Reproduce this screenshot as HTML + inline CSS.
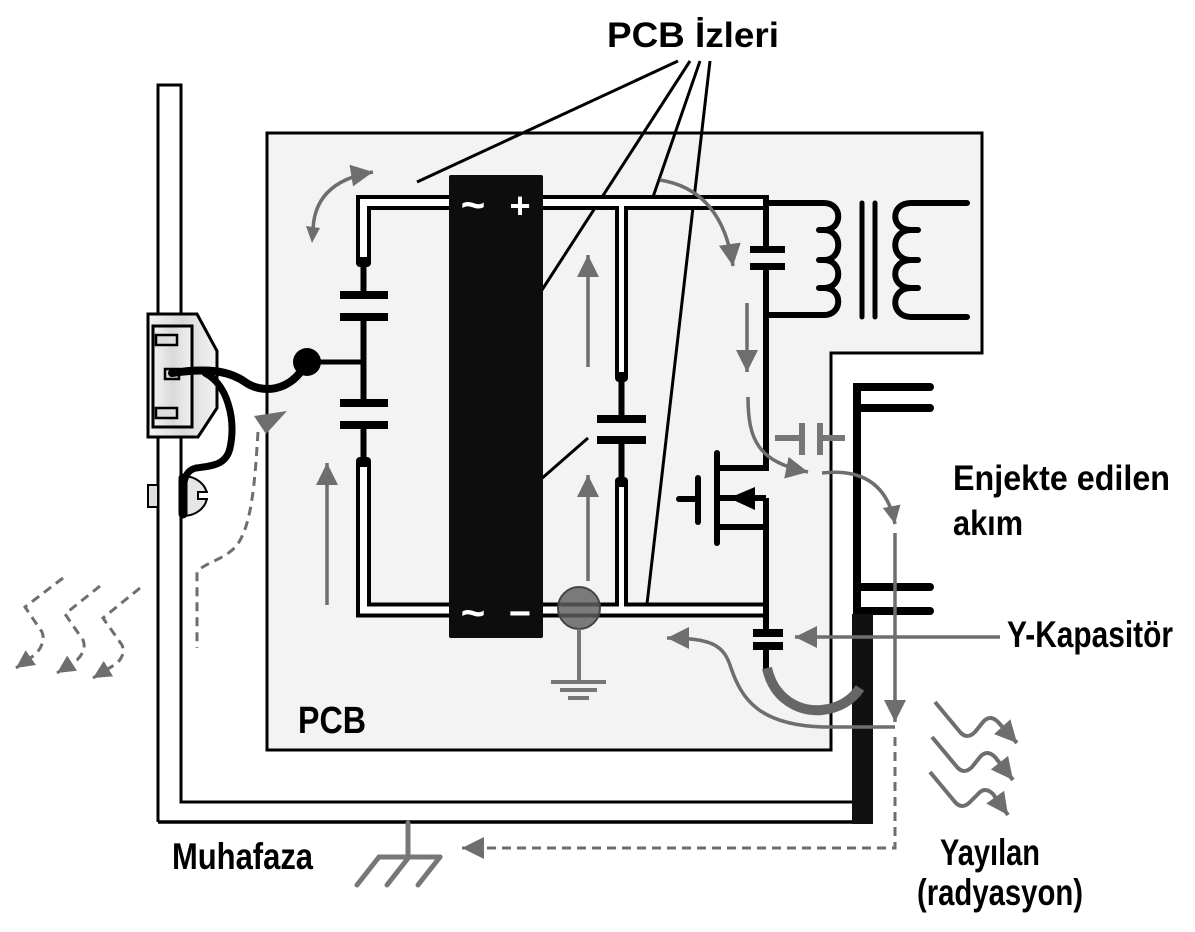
<!DOCTYPE html>
<html><head><meta charset="utf-8"><style>
html,body{margin:0;padding:0;background:#fff;}
svg{display:block;}
text{font-family:"Liberation Sans",Arial,sans-serif;font-weight:bold;}
</style></head><body>
<svg width="1195" height="932" viewBox="0 0 1195 932" xmlns="http://www.w3.org/2000/svg">
<defs>
<marker id="ah" viewBox="0 0 10 10" refX="10" refY="5" markerUnits="userSpaceOnUse" markerWidth="28" markerHeight="22" orient="auto"><path d="M0,0 L10,5 L0,10 z" fill="#6e6e6e"/></marker>
<marker id="ahs" viewBox="0 0 10 10" refX="10" refY="5" markerUnits="userSpaceOnUse" markerWidth="22" markerHeight="18" orient="auto"><path d="M0,0 L10,5 L0,10 z" fill="#6e6e6e"/></marker>
<linearGradient id="cg" x1="0" y1="0" x2="1" y2="0"><stop offset="0" stop-color="#f4f4f4"/><stop offset="0.5" stop-color="#d9d9d9"/><stop offset="1" stop-color="#f2f2f2"/></linearGradient>
</defs>
<rect width="1195" height="932" fill="#fff"/>

<!-- Enclosure -->
<path d="M158,822 V85 H181 V802 H852" fill="none" stroke="#000" stroke-width="3"/>
<path d="M158,822 H873" fill="none" stroke="#000" stroke-width="3.5"/>

<!-- PCB -->
<path d="M267,133 H982 V353 H831 V750 H267 Z" fill="#f3f3f3" stroke="#000" stroke-width="3"/>

<!-- Labels lines -->
<g stroke="#000" stroke-width="3" fill="none">
<line x1="678" y1="61" x2="417" y2="182"/>
<line x1="690" y1="61" x2="540" y2="293"/>
<line x1="700" y1="61" x2="653" y2="197"/>
<line x1="710" y1="61" x2="647" y2="604"/>
<line x1="540" y1="480" x2="588" y2="438"/>
</g>

<!-- Double traces -->
<g fill="none" stroke="#000" stroke-linejoin="miter">
<path d="M363.5,263 V202.5 H767" stroke-width="15"/>
<path d="M363.5,462 V610 H767" stroke-width="15"/>
<path d="M621.5,202.5 V378" stroke-width="13"/>
<path d="M621.5,481 V610" stroke-width="13"/>
</g>
<g fill="none" stroke="#fff" stroke-linejoin="miter">
<path d="M363.5,266 V202.5 H763" stroke-width="7"/>
<path d="M363.5,459 V610 H763" stroke-width="7"/>
<path d="M621.5,202.5 V375" stroke-width="5"/>
<path d="M621.5,484 V610" stroke-width="5"/>
</g>
<!-- trace end blobs -->
<g fill="#000">
<rect x="356" y="257" width="15" height="10" rx="4"/>
<rect x="356" y="457" width="15" height="10" rx="4"/>
<rect x="615" y="372" width="13" height="10" rx="4"/>
<rect x="615" y="477" width="13" height="10" rx="4"/>
</g>

<!-- Left X capacitors -->
<g stroke="#000" fill="none">
<path d="M363.5,263 V295 M363.5,317 V403 M363.5,425 V462" stroke-width="6"/>
<path d="M307,362 H363" stroke-width="5"/>
</g>
<g fill="#000">
<rect x="340" y="291" width="48" height="8"/>
<rect x="340" y="313" width="48" height="8"/>
<rect x="340" y="399" width="48" height="8"/>
<rect x="340" y="421" width="48" height="8"/>
<circle cx="307" cy="362" r="14"/>
</g>

<!-- Middle cap -->
<g stroke="#000" fill="none"><path d="M621.5,378 V419 M621.5,440 V481" stroke-width="6"/></g>
<rect x="597" y="415" width="49" height="8" fill="#000"/>
<rect x="597" y="436" width="49" height="8" fill="#000"/>

<!-- Bridge rectifier -->
<rect x="449" y="175" width="94" height="463" rx="2" fill="#0d0d0d"/>
<g fill="#fff" text-anchor="middle">
<text x="473" y="219" font-size="42">~</text>
<text x="520" y="218" font-size="36">+</text>
<text x="473" y="627" font-size="42">~</text>
<text x="520" y="626" font-size="38">−</text>
</g>

<!-- Right side: switch node, transformer -->
<g stroke="#000" fill="none" stroke-width="6">
<path d="M766,195 V249"/>
<path d="M766,267 V468 H717"/>
<path d="M766,498 V633"/>
<path d="M717,498 H766 M717,527 H766"/>
<path d="M766,646 V672"/>
</g>
<rect x="750" y="246" width="35" height="7" fill="#000"/>
<rect x="750" y="263" width="35" height="7" fill="#000"/>
<rect x="753" y="629" width="30" height="8" fill="#000"/>
<rect x="753" y="642" width="30" height="8" fill="#000"/>
<!-- MOSFET -->
<g stroke="#000" fill="none" stroke-width="6" stroke-linecap="round">
<path d="M717,453 V543"/>
<path d="M698,478 V522"/>
<path d="M679,499 H698"/>
</g>
<polygon points="729,498 755,487 755,510" fill="#000"/>
<!-- Transformer -->
<g stroke="#000" fill="none" stroke-width="6" stroke-linecap="round" stroke-linejoin="round">
<path d="M766,203 H824 C843,203 843,230 824,230 H819 M824,230 C843,230 843,260 824,260 H819 M824,260 C843,260 843,288 824,288 H819 M824,288 C843,288 843,315 824,315 H766"/>
<path d="M862,203 V317 M875,203 V317" stroke-width="5"/>
<path d="M967,203 H911 C890,203 890,230 911,230 H918 M911,230 C890,230 890,260 911,260 H918 M911,260 C890,260 890,288 911,288 H918 M911,288 C890,288 890,317 911,317 H967"/>
</g>

<!-- F shape and thick wall -->
<rect x="853" y="383" width="8" height="236" fill="#000"/>
<g stroke="#000" stroke-width="8" stroke-linecap="round">
<line x1="857" y1="387" x2="930" y2="387"/>
<line x1="857" y1="408" x2="930" y2="408"/>
<line x1="857" y1="587" x2="930" y2="587"/>
<line x1="857" y1="611" x2="930" y2="611"/>
</g>
<rect x="852" y="614" width="21" height="210" fill="#111"/>

<!-- Gray small cap -->
<g stroke="#777" stroke-width="6" fill="none">
<path d="M775,438 H802 M820,438 H845"/>
<path d="M802,423 V455 M820,423 V455"/>
</g>

<!-- Gray U -->
<path d="M767,668 C774,700 800,712 822,710 C840,708 852,700 860,688" fill="none" stroke="#666" stroke-width="10"/>

<!-- Gray ground circle -->
<circle cx="579" cy="608" r="21" fill="rgba(95,95,95,0.82)" stroke="#444" stroke-width="2"/>
<g stroke="#777" stroke-width="4">
<line x1="579" y1="629" x2="579" y2="682"/>
<line x1="551" y1="682" x2="606" y2="682"/>
<line x1="560" y1="690" x2="597" y2="690"/>
<line x1="568" y1="698" x2="589" y2="698"/>
</g>

<!-- Gray arrows -->
<g stroke="#6e6e6e" stroke-width="3.5" fill="none">
<path d="M313,234 Q312,182 373,172" marker-end="url(#ah)"/>
<line x1="327" y1="605" x2="327" y2="463" marker-end="url(#ah)"/>
<line x1="588" y1="367" x2="588" y2="255" marker-end="url(#ah)"/>
<line x1="588" y1="581" x2="588" y2="475" marker-end="url(#ah)"/>
<path d="M660,180 Q722,190 733,266" marker-end="url(#ah)"/>
<line x1="747" y1="303" x2="747" y2="372" marker-end="url(#ah)"/>
<path d="M748,397 C748,440 758,462 808,472" marker-end="url(#ah)"/>
<path d="M822,473 Q884,466 895,524" marker-end="url(#ahs)"/>
<line x1="895" y1="533" x2="895" y2="722" marker-end="url(#ah)"/>
<line x1="823" y1="727" x2="895" y2="727"/>
<path d="M823,727 C760,725 742,700 731,668 C724,645 712,638 667,638" marker-end="url(#ah)"/>
<line x1="1000" y1="637" x2="795" y2="637" marker-end="url(#ah)"/>
</g>
<polygon points="306,226 320,228 312,243" fill="#6e6e6e"/>

<!-- Right radiating wavy arrows -->
<g stroke="#6e6e6e" stroke-width="4" fill="none" stroke-linejoin="round">
<path d="M935,702 L960,732 Q967,740 975,732 L983,722 Q990,714 998,722 L1017,743" marker-end="url(#ah)"/>
<path d="M932,737 L957,767 Q964,775 972,767 L980,757 Q987,749 995,757 L1013,780" marker-end="url(#ah)"/>
<path d="M930,772 L955,802 Q962,810 970,802 L978,794 Q985,786 993,794 L1008,815" marker-end="url(#ah)"/>
</g>

<!-- Dashed lines -->
<g stroke="#6e6e6e" stroke-width="3" fill="none" stroke-dasharray="9,6">
<path d="M895,737 V848 H462" marker-end="url(#ah)"/>
<path d="M258,432 C255,480 252,525 237,545 C225,560 205,562 197,572 V648"/>
<path d="M63,578 L25,607 L42,632 Q46,642 36,654 L16,668" marker-end="url(#ahs)"/>
<path d="M100,586 L65,614 L83,640 Q87,650 77,660 L57,673" marker-end="url(#ahs)"/>
<path d="M140,588 L103,618 L122,645 Q126,655 116,664 L93,678" marker-end="url(#ahs)"/>
</g>
<polygon points="254,416 287,411 266,434" fill="#6e6e6e"/>

<!-- Earth ground -->
<g stroke="#777" stroke-width="5" stroke-linecap="round" fill="none">
<path d="M408,823 V857 M379,857 H440"/>
<path d="M379,857 L357,885 M409,857 L387,885 M440,857 L418,885"/>
</g>

<!-- Connector -->
<polygon points="148,314 197,314 217,351 217,408 198,437 148,437" fill="url(#cg)" stroke="#000" stroke-width="3"/>
<rect x="153" y="326" width="39" height="101" fill="url(#cg)" stroke="#000" stroke-width="3"/>
<rect x="156" y="335" width="21" height="10" fill="#ddd" stroke="#000" stroke-width="2.5"/>
<rect x="165" y="369" width="14" height="10" fill="#ddd" stroke="#000" stroke-width="2.5"/>
<rect x="156" y="408" width="21" height="10" fill="#ddd" stroke="#000" stroke-width="2.5"/>
<rect x="148" y="485" width="10" height="22" fill="#ddd" stroke="#000" stroke-width="2"/>
<path d="M183,476 A24,20 0 0 1 183,516 Z" fill="#e6e6e6" stroke="#000" stroke-width="2"/>
<path d="M208,492 H198 V499 H208" fill="#fff" stroke="#000" stroke-width="2"/>
<g stroke="#000" fill="none" stroke-linecap="round">
<path d="M172,373 C205,368 228,370 245,382 C262,394 290,392 305,365" stroke-width="8"/>
<path d="M205,373 C228,385 236,420 230,448 C226,466 210,466 196,468 C183,471 182,485 183,513" stroke-width="7"/>
<path d="M183,478 V514" stroke-width="9"/>
</g>

<!-- Text labels -->
<g fill="#000">
<text x="607" y="47" font-size="35" textLength="172" lengthAdjust="spacingAndGlyphs">PCB İzleri</text>
<text x="953" y="490" font-size="35" textLength="217" lengthAdjust="spacingAndGlyphs">Enjekte edilen</text>
<text x="953" y="535" font-size="35" textLength="70" lengthAdjust="spacingAndGlyphs">akım</text>
<text x="1007" y="647" font-size="37" textLength="166" lengthAdjust="spacingAndGlyphs">Y-Kapasitör</text>
<text x="940" y="865" font-size="37" textLength="100" lengthAdjust="spacingAndGlyphs">Yayılan</text>
<text x="917" y="905" font-size="37" textLength="166" lengthAdjust="spacingAndGlyphs">(radyasyon)</text>
<text x="172" y="869" font-size="37" textLength="141" lengthAdjust="spacingAndGlyphs">Muhafaza</text>
<text x="298" y="733" font-size="38" textLength="68" lengthAdjust="spacingAndGlyphs">PCB</text>
</g>
</svg>
</body></html>
